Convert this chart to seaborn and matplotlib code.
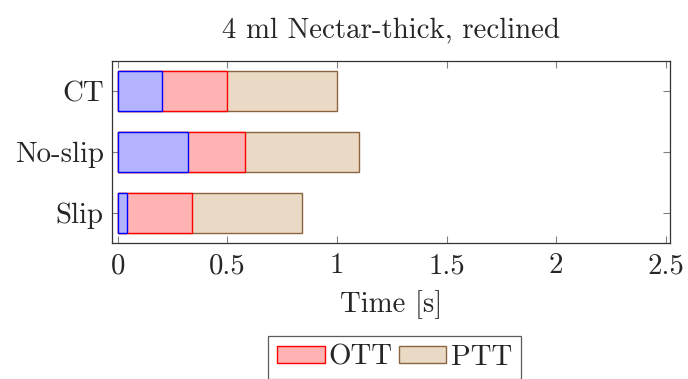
import matplotlib
matplotlib.use("Agg")
import matplotlib.pyplot as plt
import seaborn as sns
import pandas as pd
import numpy as np
from matplotlib.patches import Patch

categories = ["CT", "No-slip", "Slip"]
first_vals = [0.20, 0.32, 0.04]
ott_vals = [0.30, 0.26, 0.30]
ptt_vals = [0.50, 0.52, 0.50]
xticks = [0, 0.5, 1, 1.5, 2, 2.5]
xtick_labels = ["0", "0.5", "1", "1.5", "2", "2.5"]

sns.set_theme(style="white")
plt.rcParams["font.family"] = ["cmr10", "DejaVu Serif"]
plt.rcParams["axes.formatter.use_mathtext"] = True

FS = 20.8

first = np.array(first_vals)
c2 = first + np.array(ott_vals)
c3 = c2 + np.array(ptt_vals)
df = pd.DataFrame({"cat": categories, "first": first, "c2": c2, "c3": c3})

fig = plt.figure(figsize=(6.88, 3.79), dpi=100)
ax = fig.add_axes([112/688, 1-243/379, (670-112)/688, (243-61)/379])

layers = [("c3", "#ead9c5", "#8a6540"),
          ("c2", "#ffb3b3", "#ff0000"),
          ("first", "#b3b3ff", "#0000ff")]
for col, fc, ec in layers:
    sns.barplot(data=df, x=col, y="cat", orient="h", color=fc, saturation=1,
                edgecolor=ec, linewidth=1.0, width=0.66, ax=ax, order=categories)

ax.set_xlim(-0.027, 2.52)
ax.set_ylim(2.49, -0.49)
ax.set_xticks(xticks)
ax.set_xticklabels(xtick_labels)
ax.set_xlabel("Time [s]", fontsize=FS, labelpad=8)
ax.set_ylabel("")
ax.set_title("4 ml Nectar-thick, reclined", fontsize=FS, pad=16)
ax.tick_params(axis="x", pad=7)
ax.tick_params(axis="y", pad=6)
ax.tick_params(axis="both", which="both", direction="in", length=5, width=0.8,
               color="#808080", labelsize=FS, top=True, right=True,
               bottom=True, left=True)
for s in ax.spines.values():
    s.set_color("#333333")
    s.set_linewidth(0.9)

handles = [Patch(facecolor="#ffb3b3", edgecolor="#ff0000", linewidth=1.0),
           Patch(facecolor="#ead9c5", edgecolor="#8a6540", linewidth=1.0)]
leg = ax.legend(handles, ["OTT", "PTT"], loc="upper center",
                bbox_to_anchor=(0.506, -0.51), ncol=2, fontsize=FS,
                frameon=True, fancybox=False, edgecolor="#333333",
                handlelength=1.65, handleheight=0.55, handletextpad=0.15,
                columnspacing=0.2, borderpad=0.3, borderaxespad=0)
leg.get_frame().set_linewidth(0.9)

fig.savefig("out.png", dpi=100)
